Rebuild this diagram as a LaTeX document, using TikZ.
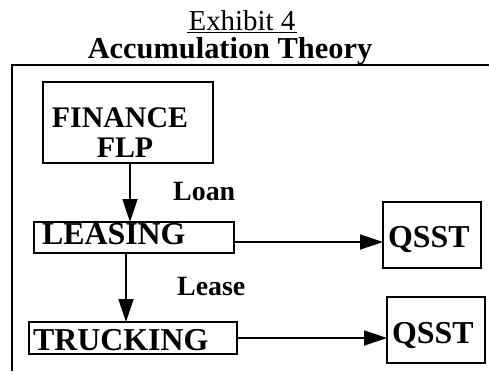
\documentclass[tikz,border=0pt]{standalone}
\usepackage{fontspec}
\setmainfont{Liberation Serif}
\usetikzlibrary{arrows.meta}
\begin{document}
\begin{tikzpicture}[x=1bp,y=-1bp,
  boxbase/.style={draw, line width=1.8bp, inner ysep=0pt, outer sep=0pt, align=left,
    font=\bfseries\fontsize{32}{32}\selectfont},
  plainbox/.style={draw, line width=1.8bp, inner sep=0pt, outer sep=0pt},
  boxtext/.style={inner sep=0pt, anchor=base, font=\bfseries\fontsize{30}{30}\selectfont},
  lab/.style={inner sep=0pt, anchor=base west, font=\bfseries\fontsize{28}{28}\selectfont},
  arr/.style={line width=1.8bp, -{Triangle[length=23bp,width=15bp]}},
  framel/.style={line width=1.8bp}]
\useasboundingbox (0,0) rectangle (489,371);
% title
\node[inner xsep=1bp, inner ysep=0pt, anchor=base, font=\fontsize{29}{29}\selectfont] (ex) at (242,30) {Exhibit 4};
\draw[line width=1.5bp] ([yshift=-2.5bp]ex.base west) -- ([yshift=-2.5bp]ex.base east);
\node[inner sep=0pt, anchor=base, font=\bfseries\fontsize{30.5}{30.5}\selectfont] (ttl) at (230,58) {Accumulation Theory};
% frame
\coordinate (fc) at (12,65);
\draw[framel] (12,371) -- (fc) -- (489,65);
% boxes
\node[plainbox, minimum width=170bp, minimum height=81bp] (fin) at (128,122.5) {};
\node[boxtext] (finA) at (120,127) {FINANCE};
\node[boxtext] (finB) at (125,157) {FLP};
\node[boxbase, anchor=base west, text width=184bp, inner xsep=8bp, text height=22bp, text depth=9bp] (lea) at (34,244) {LEASING};
\node[boxbase, anchor=base west, text width=200bp, inner xsep=4bp, text height=28bp, text depth=4bp] (tru) at (29,350) {TRUCKING};
\node[boxbase, anchor=base west, text width=88bp, inner xsep=5bp, text height=45bp, text depth=21bp] (q1) at (383,247) {QSST};
\node[boxbase, anchor=base west, text width=88bp, inner xsep=5bp, text height=46bp, text depth=20bp] (q2) at (387,343) {QSST};
% labels
\node[lab] (loan) at (173,200) {Loan};
\node[lab] (lease) at (177,295) {Lease};
% arrows
\coordinate (v1) at (130,0);
\coordinate (v2) at (126,0);
\coordinate (h1) at (0,242);
\coordinate (h2) at (0,338);
\draw[arr] (fin.south -| v1) -- (lea.north -| v1);
\draw[arr] (lea.south -| v2) -- (tru.north -| v2);
\draw[arr] (lea.east |- h1) -- (q1.west |- h1);
\draw[arr] (tru.east |- h2) -- (q2.west |- h2);
\end{tikzpicture}
\end{document}
